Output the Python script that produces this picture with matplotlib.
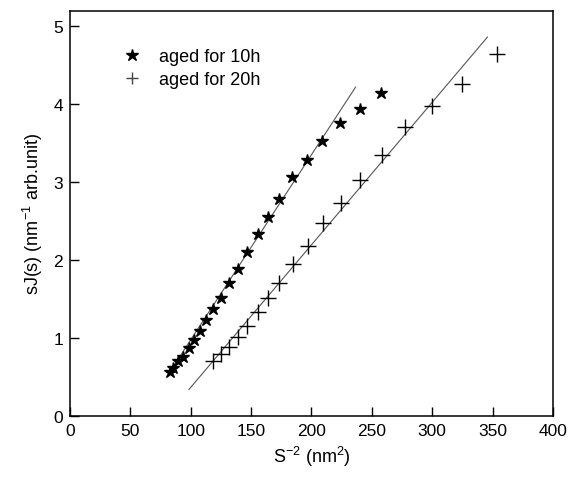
import numpy as np
import matplotlib
matplotlib.use("Agg")
import matplotlib.pyplot as plt

plt.rcParams['font.family'] = ['Liberation Sans', 'DejaVu Sans']
plt.rcParams['mathtext.fontset'] = 'custom'
plt.rcParams['mathtext.rm'] = 'Liberation Sans'

# aged for 10h
x_10h = [82.5, 85.3, 89.4, 93.5, 98.2, 102.6, 107.8, 112.8, 118.8, 125.1, 131.5,
         138.9, 146.6, 155.4, 164.2, 173.3, 184.2, 196.6, 209.0, 223.6, 240.1, 257.7]
y_10h = [0.57, 0.62, 0.70, 0.76, 0.87, 0.97, 1.09, 1.23, 1.37, 1.52, 1.71,
         1.88, 2.10, 2.34, 2.55, 2.79, 3.06, 3.29, 3.53, 3.76, 3.94, 4.15]

# aged for 20h
x_20h = [118.8, 125.1, 131.5, 138.9, 146.6, 155.4, 164.2, 173.3, 185.0, 197.0,
         209.6, 224.2, 240.1, 258.0, 277.8, 299.8, 324.5, 353.4]
y_20h = [0.70, 0.79, 0.88, 1.01, 1.16, 1.33, 1.51, 1.71, 1.95, 2.18,
         2.47, 2.73, 3.03, 3.35, 3.71, 3.98, 4.26, 4.64]

# linear fits (slope, intercept, x range)
fit_10h = (0.02375, -1.3975, [82.0, 236.5])
fit_20h = (0.01829, -1.4616, [98.5, 345.7])

fig = plt.figure(figsize=(5.68, 4.85), dpi=100)
ax = fig.add_axes([0.1232, 0.1402, 0.8504, 0.8357])

for slope, icpt, xr in (fit_10h, fit_20h):
    xr = np.array(xr)
    ax.plot(xr, slope * xr + icpt, color='#555555', linewidth=0.8, zorder=1)

ax.plot(x_10h, y_10h, linestyle='none', marker='*', markersize=9,
        color='black', label='aged for 10h', zorder=3)
ax.plot(x_20h, y_20h, linestyle='none', marker='+', markersize=12,
        markeredgewidth=1.0, color='black', label='aged for 20h', zorder=3)

ax.set_xlim(0, 400)
ax.set_ylim(0, 5.2)
ax.set_xticks(range(0, 401, 50))
ax.set_yticks(range(0, 6))
ax.tick_params(direction='in', length=6.5, width=1, labelsize=12.5,
               top=False, right=False, pad=5)
for sp in ax.spines.values():
    sp.set_linewidth(1.1)

ax.set_xlabel(r'S$^{-2}$ (nm$^{2}$)', fontsize=13, labelpad=4)
ax.set_ylabel(r'sJ(s) (nm$^{-1}$ arb.unit)', fontsize=13, labelpad=6)

leg = ax.legend(loc='upper left', bbox_to_anchor=(0.072, 0.948), frameon=False,
                fontsize=13, handlelength=1.2, handletextpad=0.9,
                labelspacing=0.35, numpoints=1)
# legend cross drawn smaller and lighter, as in the original
leg.legend_handles[1].set_markersize(8)
leg.legend_handles[1].set_color('#444444')

fig.savefig('out.png', dpi=100)
